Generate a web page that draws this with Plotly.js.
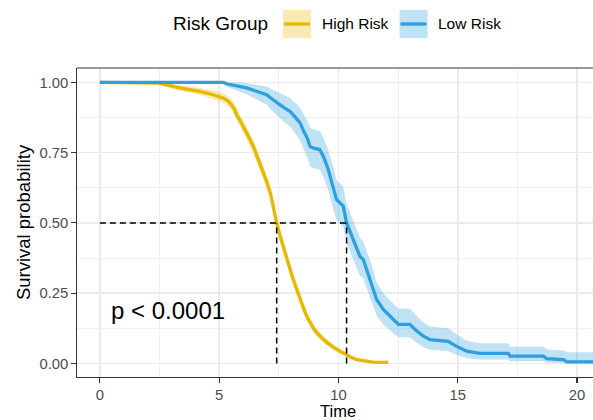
<!DOCTYPE html>
<html>
<head>
<meta charset="utf-8">
<script src="https://cdn.plot.ly/plotly-3.0.1.min.js"></script>
<style>html,body{margin:0;padding:0;background:#fff;}#chart{width:593px;height:420px;}</style>
</head>
<body>
<div id="chart"></div>
<script>
// ---- Data ----
const groups = ["High Risk", "Low Risk"];
const colors = ["#E7B800", "#2E9FDF"];

const hiTime = [0, 2.45, 2.7, 3.0, 3.35, 3.7, 4.2, 4.75, 5.17, 5.35,
  5.52, 5.65, 5.73, 5.87, 6.01, 6.15, 6.29, 6.43, 6.57, 6.71,
  6.85, 7.0, 7.15, 7.27, 7.41, 7.55, 7.69, 7.83, 7.97, 8.11,
  8.25, 8.39, 8.53, 8.67, 8.81, 8.95, 9.09, 9.22, 9.4, 9.6,
  9.8, 10.06, 10.3, 10.55, 10.76, 11.0, 11.25, 11.46, 12.09];
const hiSurv = [1.000, 0.997, 0.993, 0.986, 0.980, 0.975, 0.968, 0.956, 0.944, 0.935,
  0.920, 0.903, 0.885, 0.865, 0.844, 0.822, 0.797, 0.772, 0.742, 0.712,
  0.682, 0.645, 0.605, 0.555, 0.500, 0.455, 0.413, 0.372, 0.336, 0.298,
  0.263, 0.230, 0.198, 0.168, 0.145, 0.125, 0.110, 0.097, 0.083, 0.070,
  0.057, 0.044, 0.032, 0.021, 0.014, 0.010, 0.007, 0.005, 0.004];
const hiUpper = [1.0, 1.0, 0.999, 0.994, 0.990, 0.986, 0.981, 0.971, 0.961, 0.953,
  0.939, 0.923, 0.906, 0.887, 0.867, 0.845, 0.820, 0.796, 0.766, 0.736,
  0.706, 0.669, 0.629, 0.579, 0.524, 0.479, 0.437, 0.395, 0.358, 0.319,
  0.283, 0.249, 0.216, 0.185, 0.161, 0.140, 0.124, 0.110, 0.095, 0.081,
  0.067, 0.053, 0.040, 0.028, 0.020, 0.015, 0.011, 0.009, 0.008];
const hiLower = [1.0, 0.993, 0.986, 0.977, 0.970, 0.963, 0.955, 0.941, 0.927, 0.917,
  0.901, 0.883, 0.864, 0.843, 0.821, 0.799, 0.774, 0.748, 0.718, 0.688,
  0.658, 0.621, 0.581, 0.531, 0.476, 0.431, 0.389, 0.349, 0.314, 0.277,
  0.243, 0.211, 0.180, 0.151, 0.129, 0.110, 0.096, 0.084, 0.071, 0.059,
  0.047, 0.035, 0.024, 0.014, 0.008, 0.005, 0.003, 0.001, 0.000];

const loTime = [0, 5.17, 5.3, 5.6, 5.9, 6.15, 6.5, 6.75, 6.99, 7.15,
  7.34, 7.55, 7.75, 7.97, 8.15, 8.39, 8.55, 8.7, 8.81, 9.0,
  9.22, 9.4, 9.57, 9.75, 9.92, 10.1, 10.2, 10.34, 10.48, 10.62,
  10.76, 10.9, 11.04, 11.18, 11.39, 11.6, 11.88, 12.23, 12.51, 13.0,
  13.21, 13.56, 13.84, 14.6, 14.95, 15.37, 15.93, 17.12, 17.19, 18.6,
  18.73, 19.43, 19.57, 21.0];
const loSurv = [1.0, 1.0, 0.995, 0.990, 0.985, 0.980, 0.970, 0.962, 0.956, 0.945,
  0.932, 0.920, 0.908, 0.897, 0.880, 0.856, 0.825, 0.800, 0.772, 0.765,
  0.761, 0.730, 0.690, 0.640, 0.583, 0.568, 0.560, 0.500, 0.470, 0.441,
  0.405, 0.381, 0.370, 0.334, 0.287, 0.228, 0.192, 0.162, 0.139, 0.139,
  0.121, 0.097, 0.085, 0.079, 0.061, 0.044, 0.036, 0.036, 0.026, 0.026,
  0.017, 0.014, 0.006, 0.006];
const loUpper = [1.0, 1.0, 1.0, 1.0, 0.999, 0.997, 0.993, 0.989, 0.985, 0.978,
  0.970, 0.961, 0.952, 0.944, 0.930, 0.910, 0.884, 0.864, 0.838, 0.832,
  0.828, 0.798, 0.760, 0.710, 0.652, 0.637, 0.629, 0.568, 0.538, 0.508,
  0.472, 0.447, 0.436, 0.398, 0.350, 0.288, 0.250, 0.218, 0.195, 0.195,
  0.175, 0.146, 0.132, 0.125, 0.103, 0.082, 0.072, 0.072, 0.060, 0.060,
  0.050, 0.046, 0.040, 0.040];
const loLower = [1.0, 1.0, 0.985, 0.976, 0.966, 0.958, 0.942, 0.930, 0.920, 0.905,
  0.888, 0.872, 0.857, 0.843, 0.822, 0.794, 0.760, 0.732, 0.702, 0.694,
  0.690, 0.658, 0.617, 0.566, 0.509, 0.494, 0.486, 0.428, 0.398, 0.370,
  0.335, 0.312, 0.302, 0.268, 0.224, 0.170, 0.138, 0.112, 0.093, 0.093,
  0.078, 0.058, 0.049, 0.044, 0.031, 0.019, 0.014, 0.014, 0.008, 0.008,
  0.004, 0.002, 0.000, 0.000];

const medianTimes = [7.41, 10.34];
const medianLevel = 0.5;
const pText = "p < 0.0001";
const xTitle = "Time";
const yTitle = "Survival probability";
const legendTitle = "Risk Group";
const xTicks = [0, 5, 10, 15, 20];
const yTicks = [0, 0.25, 0.5, 0.75, 1.0];
const yTickText = ["0.00", "0.25", "0.50", "0.75", "1.00"];

// ---- Build traces ----
const FONT = "Liberation Sans, Arial, Helvetica, sans-serif";
function band(t, lo, up, col) {
  return [
    {x: t, y: lo, mode: "lines", line: {width: 0, shape: "linear"}, hoverinfo: "skip", showlegend: false},
    {x: t, y: up, mode: "lines", line: {width: 0, shape: "linear"}, fill: "tonexty",
     fillcolor: col, hoverinfo: "skip", showlegend: false}
  ];
}
const traces = [];
traces.push(...band(hiTime, hiLower, hiUpper, "rgba(231,184,0,0.3)"));
traces.push(...band(loTime, loLower, loUpper, "rgba(46,159,223,0.3)"));
traces.push({x: hiTime, y: hiSurv, mode: "lines", name: groups[0], line: {color: colors[0], width: 3.3}, showlegend: false});
traces.push({x: loTime, y: loSurv, mode: "lines", name: groups[1], line: {color: colors[1], width: 3.3}, showlegend: false});

// median reference lines
const dashStyle = {color: "#000", width: 1.5, dash: "6px,4px"};
traces.push({x: [0, Math.max(...medianTimes)], y: [medianLevel, medianLevel], mode: "lines", line: dashStyle, showlegend: false, hoverinfo: "skip"});
medianTimes.forEach(m => traces.push({x: [m, m], y: [0, medianLevel], mode: "lines", line: dashStyle, showlegend: false, hoverinfo: "skip"}));

// ---- Layout ----
const W = 593, H = 420, ML = 77, MR = 0, MT = 68, MB = 43;
const PW = W - ML - MR, PH = H - MT - MB;
const px = v => (v - ML) / PW;           // pixel x -> paper x
const py = v => (H - MB - v) / PH;       // pixel y -> paper y

const shapes = [
  {type: "line", xref: "paper", yref: "paper", x0: 0, x1: 1, y0: 1, y1: 1, line: {color: "#333333", width: 1.2}},
  {type: "rect", xref: "paper", yref: "paper", x0: px(283), x1: px(311), y0: py(38), y1: py(10), fillcolor: "rgba(231,184,0,0.3)", line: {width: 0}},
  {type: "line", xref: "paper", yref: "paper", x0: px(284), x1: px(310), y0: py(24), y1: py(24), line: {color: colors[0], width: 3.3}},
  {type: "rect", xref: "paper", yref: "paper", x0: px(399.5), x1: px(427.5), y0: py(38), y1: py(10), fillcolor: "rgba(46,159,223,0.3)", line: {width: 0}},
  {type: "line", xref: "paper", yref: "paper", x0: px(400.5), x1: px(426.5), y0: py(24), y1: py(24), line: {color: colors[1], width: 3.3}}
];

const annotations = [
  {xref: "paper", yref: "paper", x: px(172), y: py(24), xanchor: "left", yanchor: "middle", showarrow: false,
   text: legendTitle, font: {family: FONT, size: 19, color: "#000"}, borderpad: 0},
  {xref: "paper", yref: "paper", x: px(320.5), y: py(24), xanchor: "left", yanchor: "middle", showarrow: false,
   text: groups[0], font: {family: FONT, size: 15.5, color: "#000"}, borderpad: 0},
  {xref: "paper", yref: "paper", x: px(437), y: py(24), xanchor: "left", yanchor: "middle", showarrow: false,
   text: groups[1], font: {family: FONT, size: 15.5, color: "#000"}, borderpad: 0},
  {xref: "x", yref: "y", x: 0.42, y: 0.19, xanchor: "left", yanchor: "middle", showarrow: false,
   text: pText, font: {family: FONT, size: 24, color: "#000"}, borderpad: 0},
  {xref: "paper", yref: "paper", x: px(338), y: py(420.5), xanchor: "center", yanchor: "bottom", showarrow: false,
   text: xTitle, font: {family: FONT, size: 16.5, color: "#000"}, borderpad: 0}
];

const axisCommon = {
  ticks: "outside", ticklen: 4.5, tickwidth: 1.1, tickcolor: "#333333",
  showline: true, linecolor: "#333333", linewidth: 1.2,
  showgrid: true, gridcolor: "#EBEBEB", gridwidth: 1.6,
  zeroline: false,
  tickfont: {family: FONT, size: 14.8, color: "#4D4D4D"}
};

const layout = {
  width: W, height: H,
  margin: {l: ML, r: MR, t: MT, b: MB, pad: 0},
  paper_bgcolor: "#ffffff", plot_bgcolor: "#ffffff",
  showlegend: false,
  font: {family: FONT},
  xaxis: Object.assign({}, axisCommon, {
    range: [-0.96, 20.67], tickvals: xTicks, ticktext: xTicks.map(String),
    minor: {dtick: 2.5, tick0: 0, showgrid: true, gridcolor: "#F0F0F0", gridwidth: 1.1, ticks: ""}
  }),
  yaxis: Object.assign({}, axisCommon, {
    range: [-0.048, 1.051], tickvals: yTicks, ticktext: yTickText,
    minor: {dtick: 0.125, tick0: 0, showgrid: true, gridcolor: "#F0F0F0", gridwidth: 1.1, ticks: ""},
    title: {text: yTitle, font: {family: FONT, size: 18.5, color: "#000"}, standoff: 4}
  }),
  shapes: shapes,
  annotations: annotations
};

Plotly.newPlot("chart", traces, layout, {displayModeBar: false, staticPlot: true});
</script>
</body>
</html>
